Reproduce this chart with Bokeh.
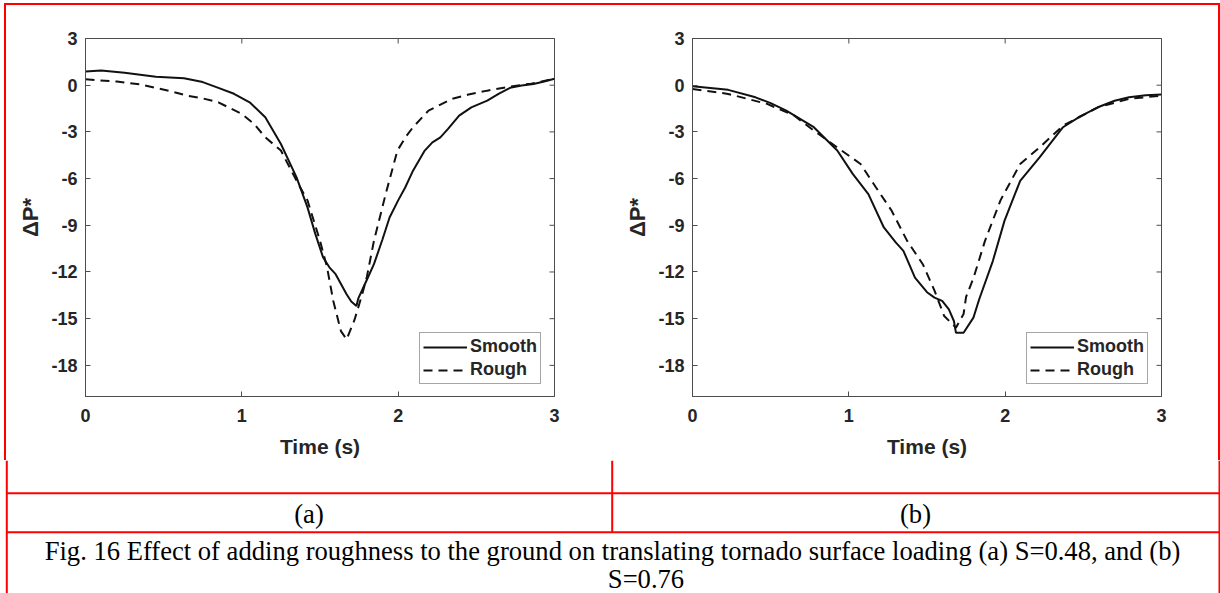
from bokeh.plotting import figure
from bokeh.models import Range1d, FixedTicker, Legend, LegendItem
from bokeh.layouts import column, row
from bokeh.embed import file_html
from bokeh.resources import INLINE
from bokeh.core.properties import value

# ---------------- data ----------------
x_ticks = [0, 1, 2, 3]
x_tick_labels = ["0", "1", "2", "3"]
y_ticks = [3, 0, -3, -6, -9, -12, -15, -18]
y_tick_labels = ["3", "0", "-3", "-6", "-9", "-12", "-15", "-18"]

# panel (a) S=0.48
t_smooth_a = [0, 0.1, 0.25, 0.45, 0.63, 0.75, 0.85, 0.95, 1.05, 1.15, 1.25, 1.35, 1.42,
              1.47, 1.52, 1.56, 1.60, 1.67, 1.70, 1.733, 1.745, 1.80, 1.845, 1.90, 1.945,
              2.00, 2.045, 2.095, 2.17, 2.219, 2.27, 2.319, 2.39, 2.468, 2.57, 2.642,
              2.716, 2.79, 2.866, 2.94, 3.0]
p_smooth_a = [0.88, 0.94, 0.80, 0.55, 0.45, 0.2, -0.17, -0.55, -1.1, -2.06, -3.78, -5.92,
              -7.85, -9.55, -11.07, -11.7, -12.14, -13.43, -13.9, -14.18, -13.7, -12.5,
              -11.5, -9.9, -8.5, -7.4, -6.57, -5.49, -4.2, -3.67, -3.35, -2.81, -1.95,
              -1.42, -0.99, -0.56, -0.17, -0.02, 0.08, 0.25, 0.41]
t_rough_a = [0, 0.2, 0.35, 0.45, 0.55, 0.65, 0.75, 0.85, 1.0, 1.08, 1.15, 1.25, 1.35, 1.42,
             1.50, 1.545, 1.585, 1.634, 1.67, 1.72, 1.77, 1.80, 1.845, 1.92, 1.995, 2.05,
             2.095, 2.194, 2.343, 2.45, 2.57, 2.716, 2.85, 3.0]
p_rough_a = [0.38, 0.23, 0.05, -0.17, -0.4, -0.67, -0.85, -1.1, -1.85, -2.5, -3.35, -4.2,
             -6.14, -7.4, -10.0, -11.7, -13.86, -15.8, -16.33, -15.1, -13.43, -12.3, -10.0,
             -7.0, -4.2, -3.3, -2.7, -1.63, -0.88, -0.6, -0.35, -0.09, 0.1, 0.41]

# panel (b) S=0.76
t_smooth_b = [0, 0.228, 0.403, 0.5, 0.6, 0.776, 0.926, 1.025, 1.125, 1.224, 1.30, 1.349,
              1.423, 1.50, 1.548, 1.597, 1.64, 1.672, 1.685, 1.734, 1.797, 1.834, 1.921,
              1.996, 2.096, 2.22, 2.37, 2.48, 2.593, 2.70, 2.792, 2.9, 3.0]
p_smooth_b = [-0.07, -0.3, -0.78, -1.15, -1.63, -2.7, -4.2, -5.7, -7.0, -9.14, -10.1,
              -10.64, -12.36, -13.3, -13.65, -13.86, -14.4, -15.15, -15.9, -15.9, -14.93,
              -13.75, -11.3, -8.7, -6.14, -4.64, -2.7, -2.0, -1.42, -1.0, -0.78, -0.65, -0.6]
t_rough_b = [0, 0.228, 0.477, 0.652, 0.776, 0.926, 1.075, 1.174, 1.274, 1.373, 1.473, 1.548,
             1.61, 1.685, 1.734, 1.75, 1.797, 1.871, 1.97, 2.096, 2.22, 2.37, 2.593, 2.792, 3.0]
p_rough_b = [-0.24, -0.56, -1.2, -1.96, -2.92, -4.0, -5.06, -6.57, -8.07, -10.0, -11.5,
             -13.2, -14.83, -15.58, -14.7, -13.6, -12.4, -10.0, -7.4, -5.06, -4.0, -2.6,
             -1.42, -0.88, -0.67]

series_labels = ["Smooth", "Rough"]
x_label = "Time (s)"
y_label = "ΔP*"
sub_labels = ["(a)", "(b)"]
caption_lines = ["Fig. 16 Effect of adding roughness to the ground on translating tornado "
                 "surface loading (a) S=0.48, and (b)", "S=0.76"]

# ---------------- styling ----------------
SANS = "Liberation Sans"
SERIF = "Liberation Serif"
AX = "#4d4d4d"
TXT = "#262626"
RED = "#ff0000"
TOP_H = 460
X0, X1 = 0, 3
Y0, Y1 = -20, 3


def make_panel(ts, ps, tr, pr, left_b, right_b):
    p = figure(frame_width=469, frame_height=358,
               min_border_left=left_b, min_border_right=right_b,
               min_border_top=38, min_border_bottom=TOP_H - 38 - 358,
               x_range=Range1d(X0, X1), y_range=Range1d(Y0, Y1),
               output_backend="svg", toolbar_location=None,
               x_axis_label=x_label, y_axis_label=y_label)
    p.grid.visible = False
    p.outline_line_color = AX
    p.outline_line_width = 1
    p.background_fill_color = "white"
    p.border_fill_alpha = 0.0

    p.xaxis.ticker = FixedTicker(ticks=x_ticks)
    p.xaxis.major_label_overrides = dict(zip(x_ticks, x_tick_labels))
    p.yaxis.ticker = FixedTicker(ticks=y_ticks)
    p.yaxis.major_label_overrides = dict(zip(y_ticks, y_tick_labels))
    for ax in (p.xaxis[0], p.yaxis[0]):
        ax.axis_line_color = AX
        ax.major_tick_line_color = AX
        ax.major_tick_in = 5
        ax.major_tick_out = 0
        ax.minor_tick_line_color = None
        ax.major_label_text_font = SANS
        ax.major_label_text_font_style = "bold"
        ax.major_label_text_font_size = "18px"
        ax.major_label_text_color = TXT
        ax.axis_label_text_font = SANS
        ax.axis_label_text_font_style = "bold"
        ax.axis_label_text_color = TXT
    p.xaxis.major_label_standoff = 12
    p.yaxis.major_label_standoff = 8
    p.xaxis.axis_label_text_font_size = "21px"
    p.xaxis.axis_label_standoff = 10
    p.yaxis.axis_label_text_font_size = "22px"
    p.yaxis.axis_label_standoff = 5

    # inward ticks on the top and right edges of the box (half of each dash is clipped)
    p.scatter(x=x_ticks, y=[Y1] * len(x_ticks), marker="dash", angle=1.5708,
              size=10, line_color=AX, line_width=1)
    p.scatter(x=[X1] * len(y_ticks), y=y_ticks, marker="dash",
              size=10, line_color=AX, line_width=1)

    r1 = p.line(ts, ps, line_color="#111111", line_width=2)
    r2 = p.line(tr, pr, line_color="#111111", line_width=2, line_dash="9 6")
    leg = Legend(items=[LegendItem(label=series_labels[0], renderers=[r1]),
                        LegendItem(label=series_labels[1], renderers=[r2])],
                 location=(334, 12), orientation="vertical",
                 label_text_font=SANS, label_text_font_style="bold",
                 label_text_font_size="18px", label_text_color=TXT,
                 border_line_color=AX, border_line_width=1,
                 background_fill_color="white", background_fill_alpha=1.0,
                 padding=3, spacing=2, margin=0, glyph_width=44, glyph_height=20,
                 label_height=20, label_standoff=3)
    p.add_layout(leg)
    return p


fa = make_panel(t_smooth_a, p_smooth_a, t_rough_a, p_rough_a, 85, 57)
fb = make_panel(t_smooth_b, p_smooth_b, t_rough_b, p_rough_b, 81, 59)

# table borders of the top row (painted behind the transparent figure borders)
grad = "linear-gradient(#ff0000, #ff0000), linear-gradient(#ff0000, #ff0000)"
fa.styles = {"background-image": grad,
             "background-size": "calc(100% - 4px) 2px, 2px calc(100% - 3px)",
             "background-position": "4px 3px, 4px 3px",
             "background-repeat": "no-repeat"}
fb.styles = {"background-image": grad,
             "background-size": "100% 2px, 2px calc(100% - 3px)",
             "background-position": "0px 3px, 100% 3px",
             "background-repeat": "no-repeat"}

# ---------------- caption / table rows ----------------
CAP_H = 593 - TOP_H
cap = figure(frame_width=1220, frame_height=CAP_H, min_border=0,
             x_range=Range1d(0, 1220), y_range=Range1d(CAP_H, 0),
             x_axis_type=None, y_axis_type=None,
             output_backend="svg", toolbar_location=None)
cap.grid.visible = False
cap.outline_line_color = None
cap.segment(x0=[6.3, 6.3, 611.7, 6.3, 1219], y0=[32.7, 71.7, 0, 0, 0],
            x1=[1220, 1220, 611.7, 6.3, 1219], y1=[32.7, 71.7, 71.7, CAP_H, CAP_H],
            line_color=RED, line_width=2)
cap.text(x=[308.5, 915], y=[53.5, 53.5], text=sub_labels,
         text_font=value(SERIF), text_font_size="26.6px", text_color="black",
         text_align="center", text_baseline="alphabetic")
cap.text(x=[612, 645.5], y=[90, 118], text=caption_lines,
         text_font=value(SERIF), text_font_size="26.6px", text_color="black",
         text_align="center", text_baseline="alphabetic")

layout = column(row(fa, fb, spacing=0), cap, spacing=0)
open("out.html", "w").write(file_html(layout, INLINE))
